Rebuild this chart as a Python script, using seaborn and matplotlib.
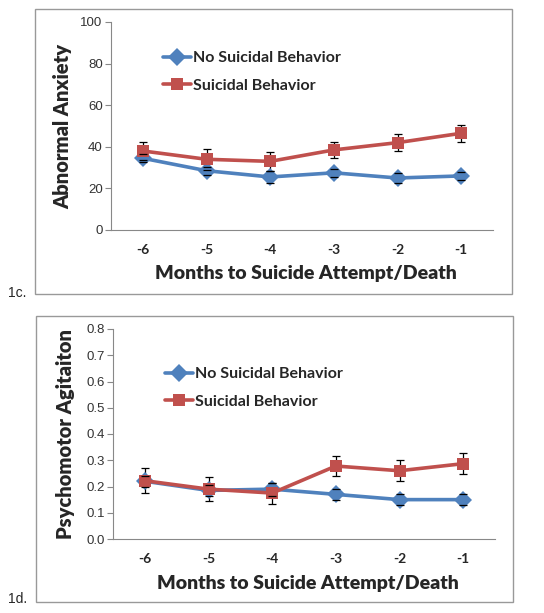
import matplotlib
matplotlib.use("Agg")
import matplotlib.pyplot as plt
import seaborn as sns
import pandas as pd
import numpy as np
from matplotlib.patches import Rectangle

months = ["-6", "-5", "-4", "-3", "-2", "-1"]

anx_no = [34.5, 28.5, 25.5, 27.5, 25.0, 26.0]
anx_no_err = [2.0, 2.0, 3.0, 2.0, 2.5, 2.0]
anx_yes = [38.0, 34.0, 33.0, 38.5, 42.0, 46.5]
anx_yes_err = [4.5, 5.0, 4.5, 4.0, 4.0, 4.0]

agi_no = [0.220, 0.185, 0.190, 0.170, 0.150, 0.150]
agi_no_err = [0.020, 0.020, 0.025, 0.020, 0.020, 0.020]
agi_yes = [0.222, 0.190, 0.175, 0.278, 0.260, 0.287]
agi_yes_err = [0.047, 0.045, 0.040, 0.038, 0.040, 0.040]

series_names = ["No Suicidal Behavior", "Suicidal Behavior"]
colors = {"No Suicidal Behavior": "#4F81BD", "Suicidal Behavior": "#C0504D"}
markers = {"No Suicidal Behavior": "D", "Suicidal Behavior": "s"}

sns.set_style("white")
plt.rcParams["font.family"] = ["Lato", "DejaVu Sans"]

W, H = 544, 613
fig = plt.figure(figsize=(W / 100, H / 100), dpi=100)


def px_axes(l, r, t, b):
    return fig.add_axes([l / W, 1 - b / H, (r - l) / W, (b - t) / H])


def panel(ax, no, no_err, yes, yes_err, ylim, yticks, yfmt, ylabel, leg_xy):
    x = np.arange(len(months))
    df = pd.DataFrame({
        "x": np.concatenate([x, x]),
        "value": no + yes,
        "group": [series_names[0]] * len(months) + [series_names[1]] * len(months),
    })
    sns.lineplot(data=df, x="x", y="value", hue="group", style="group",
                 palette=colors, markers=markers, dashes=False, ax=ax,
                 linewidth=2.6, markersize=9, markeredgewidth=0, legend=True)
    for vals, errs in ((no, no_err), (yes, yes_err)):
        ax.errorbar(x, vals, yerr=errs, fmt="none", ecolor="black",
                    elinewidth=0.9, capsize=2.8, capthick=0.9, zorder=1)
    for line in ax.get_lines():
        line.set_zorder(3)
    ax.set_xlim(-0.5, len(months) - 0.5)
    ax.set_ylim(*ylim)
    ax.set_yticks(yticks)
    ax.set_yticklabels([yfmt.format(v) for v in yticks], fontsize=9.5,
                       family=["Liberation Sans", "DejaVu Sans"], color="#333333")
    ax.set_xticks(x)
    ax.set_xticklabels(months, fontsize=10, fontweight="bold")
    ax.set_xticks(np.arange(-0.5, len(months)), minor=True)
    ax.tick_params(axis="x", which="major", length=0, pad=10)
    ax.tick_params(axis="x", which="minor", length=4, color="#888888", width=0.8)
    ax.tick_params(axis="y", which="major", length=4, color="#888888", width=0.8,
                   pad=2, direction="out", left=True)
    for s in ("top", "right"):
        ax.spines[s].set_visible(False)
    for s in ("left", "bottom"):
        ax.spines[s].set_color("#888888")
        ax.spines[s].set_linewidth(0.8)
    ax.set_xlabel("Months to Suicide Attempt/Death", fontsize=14,
                  fontweight="heavy")
    ax.xaxis.set_label_coords(0.51, -0.21)
    ax.xaxis.label.set_va("center")
    ax.set_ylabel(ylabel, fontsize=14.5, fontweight="heavy")
    ax.yaxis.set_label_coords(-0.125, 0.5)
    ax.yaxis.label.set_va("center")
    handles, labels = ax.get_legend_handles_labels()
    ax.legend(handles, labels, loc="upper left", bbox_to_anchor=leg_xy,
              frameon=False, prop={"family": "Lato", "weight": "bold", "size": 11.5},
              handlelength=1.75, handletextpad=0.15, labelspacing=0.85,
              borderaxespad=0, borderpad=0)
    ax.grid(False)


fig.patches.append(Rectangle((35 / W, 1 - 294 / H), (512 - 35) / W, (294 - 9) / H,
                             transform=fig.transFigure, fill=False,
                             edgecolor="#999999", linewidth=1.0))
fig.patches.append(Rectangle((36 / W, 1 - 602 / H), (513 - 36) / W, (602 - 316) / H,
                             transform=fig.transFigure, fill=False,
                             edgecolor="#999999", linewidth=1.0))

ax1 = px_axes(111, 493, 22, 230)
panel(ax1, anx_no, anx_no_err, anx_yes, anx_yes_err, (0, 100),
      [0, 20, 40, 60, 80, 100], "{:.0f}", "Abnormal Anxiety", (0.135, 0.861))

ax2 = px_axes(113, 495, 329, 539)
panel(ax2, agi_no, agi_no_err, agi_yes, agi_yes_err, (0, 0.8),
      [0.0, 0.1, 0.2, 0.3, 0.4, 0.5, 0.6, 0.7, 0.8], "{:.1f}",
      "Psychomotor Agitaiton", (0.135, 0.819))

fig.text(8 / W, 1 - 293 / H, "1c.", fontsize=10,
         family=["Liberation Sans", "DejaVu Sans"], va="center", ha="left")
fig.text(8 / W, 1 - 599 / H, "1d.", fontsize=10,
         family=["Liberation Sans", "DejaVu Sans"], va="center", ha="left")

fig.savefig("out.png", dpi=100, facecolor="white")
